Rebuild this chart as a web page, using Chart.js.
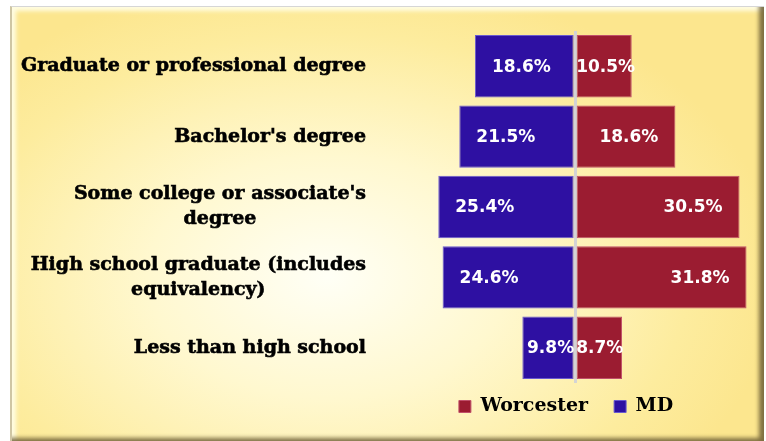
<!DOCTYPE html>
<html>
<head>
<meta charset="utf-8">
<script src="https://cdn.jsdelivr.net/npm/chart.js@4"></script>
<style>
  html, body { margin: 0; padding: 0; background: #fff; }
  #wrap { position: relative; width: 766px; height: 441px; overflow: hidden; }
  #panel {
    position: absolute; left: 10px; top: 6px; width: 754px; height: 436px;
    box-sizing: border-box;
    border-top: 1px solid #d6d6d6; border-left: 2px solid #cfc6a4;
    background: radial-gradient(ellipse 60% 70% at 42% 62%, #fffff6 0%, #fff8cf 40%, #fdec9e 80%, #fce68e 100%);
    box-shadow: inset -6px -5px 4px -1px rgba(105, 90, 50, 0.85), inset 4px 4px 4px rgba(255, 255, 235, 0.9);
  }
  #chart { position: absolute; left: 0; top: 0; }
</style>
</head>
<body>
<div id="wrap">
  <div id="panel"></div>
  <canvas id="chart" width="766" height="441"></canvas>
</div>
<script>
// Categories (each line of the label)
const categories = [
  ["Graduate or professional degree"],
  ["Bachelor's degree"],
  ["Some college or associate's", "degree"],
  ["High school graduate (includes", "equivalency)"],
  ["Less than high school"]
];

// Series values (percent)
const worcester = [10.5, 18.6, 30.5, 31.8, 8.7];
const md = [18.6, 21.5, 25.4, 24.6, 9.8];

const seriesNames = ["Worcester", "MD"];
const seriesColors = ["#9b1c31", "#2e10a2"];
const seriesBorders = ["#c0506a", "#6a5ad0"];

// value labels inside the bars
const valueLabels = {
  id: "valueLabels",
  afterDatasetsDraw(chart) {
    const ctx = chart.ctx;
    const zero = chart.scales.x.getPixelForValue(0);
    ctx.save();
    ctx.font = 'bold 17px "DejaVu Sans"';
    ctx.fillStyle = "#ffffff";
    ctx.textAlign = "left";
    ctx.textBaseline = "middle";
    chart.data.datasets.forEach((ds, i) => {
      chart.getDatasetMeta(i).data.forEach((bar, j) => {
        const v = ds.data[j];
        const txt = Math.abs(v).toFixed(1) + "%";
        const w = ctx.measureText(txt).width;
        let left;
        if (v >= 0) {
          left = Math.max(bar.x - 17 - w, zero + 1);
        } else {
          left = Math.min(bar.x + 17, zero - 1 - w);
        }
        ctx.fillText(txt, left, bar.y + 1);
      });
    });
    ctx.restore();
  }
};

// category labels: block right aligned, lines centred within the block
const catLabels = {
  id: "catLabels",
  afterDraw(chart) {
    const ctx = chart.ctx;
    const yScale = chart.scales.y;
    const right = chart.chartArea.left - 6;
    ctx.save();
    ctx.font = 'bold 19px "DejaVu Serif"';
    ctx.fillStyle = "#000000";
    ctx.strokeStyle = "#000000";
    ctx.lineWidth = 0.6;
    ctx.textAlign = "center";
    ctx.textBaseline = "middle";
    categories.forEach((lines, i) => {
      const w = Math.max(...lines.map(l => ctx.measureText(l).width));
      const cy = yScale.getPixelForValue(i);
      lines.forEach((l, k) => {
        const ly = cy + (k - (lines.length - 1) / 2) * 25;
        ctx.fillText(l, right - w / 2, ly);
        ctx.strokeText(l, right - w / 2, ly);
      });
    });
    ctx.restore();
  }
};

const ctx = document.getElementById("chart").getContext("2d");
new Chart(ctx, {
  type: "bar",
  data: {
    labels: categories.map(c => c.join(" ")),
    datasets: [
      {
        label: seriesNames[0],
        data: worcester,
        backgroundColor: seriesColors[0],
        borderColor: seriesBorders[0],
        borderWidth: 1,
        borderSkipped: false
      },
      {
        label: seriesNames[1],
        data: md.map(v => -v),
        backgroundColor: seriesColors[1],
        borderColor: seriesBorders[1],
        borderWidth: 1,
        borderSkipped: false
      }
    ]
  },
  options: {
    indexAxis: "y",
    responsive: false,
    animation: false,
    devicePixelRatio: 1,
    datasets: {
      bar: { barPercentage: 0.886, categoryPercentage: 1 }
    },
    layout: { padding: { top: 31, right: 6, bottom: 3, left: 0 } },
    scales: {
      x: {
        stacked: true,
        min: -37.7,
        max: 34.3,
        z: 1,
        border: { display: false },
        ticks: { display: false, stepSize: 10 },
        grid: {
          drawTicks: false,
          lineWidth: 3,
          color: c => (c.tick && c.tick.value === 0 ? "#d4d4d4" : "rgba(0,0,0,0)")
        },
        afterFit: s => { s.height = -12; }
      },
      y: {
        stacked: true,
        border: { display: false },
        grid: { display: false },
        ticks: { display: false },
        afterFit: s => { s.width = 372; }
      }
    },
    plugins: {
      legend: {
        position: "bottom",
        fullSize: false,
        labels: {
          boxWidth: 12,
          boxHeight: 12,
          padding: 26,
          color: "#000",
          font: { family: '"DejaVu Serif"', weight: "bold", size: 19 }
        }
      },
      tooltip: { enabled: false }
    }
  },
  plugins: [valueLabels, catLabels]
});
</script>
</body>
</html>
